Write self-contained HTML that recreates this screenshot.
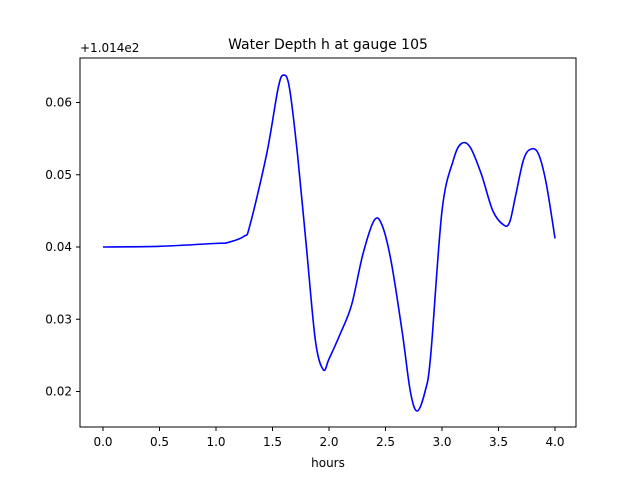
<!DOCTYPE html>
<html><head><meta charset="utf-8"><style>
body{margin:0;background:#fff;}
svg text{font-family:"DejaVu Sans","Liberation Sans",sans-serif;}
</style></head><body>
<svg id="chart" width="640" height="480" xmlns="http://www.w3.org/2000/svg">
<rect x="0" y="0" width="640" height="480" fill="#fff"/>
<text x="328" y="49" font-size="14" text-anchor="middle">Water Depth h at gauge 105</text>
<text x="80" y="52" font-size="12">+1.014e2</text>
<text x="328" y="467" font-size="12" text-anchor="middle">hours</text>
<g id="xticks"></g><g id="yticks"></g>
<path id="line" fill="none" stroke="#0000ff" stroke-width="1.6"/>
<rect x="80" y="58" width="496" height="369" fill="none" stroke="#000" stroke-width="1"/>
</svg>
<script>
const hours=[0,0.5,1.0,1.1,1.25,1.3,1.45,1.55,1.6,1.65,1.72,1.8,1.88,1.95,2.0,2.1,2.2,2.3,2.4,2.47,2.55,2.65,2.72,2.78,2.85,2.9,3.0,3.1,3.17,3.25,3.35,3.45,3.55,3.6,3.65,3.72,3.78,3.85,3.92,4.0];
const depth=[0.040,0.0401,0.0405,0.0406,0.0415,0.043,0.053,0.062,0.0638,0.062,0.053,0.040,0.027,0.023,0.0245,0.028,0.032,0.039,0.0437,0.043,0.038,0.028,0.020,0.0173,0.020,0.025,0.045,0.052,0.0543,0.0538,0.050,0.045,0.043,0.0435,0.047,0.052,0.0535,0.053,0.049,0.0412];
const xTicks=[0,0.5,1.0,1.5,2.0,2.5,3.0,3.5,4.0];
const xLabels=["0.0","0.5","1.0","1.5","2.0","2.5","3.0","3.5","4.0"];
const yTicks=[0.02,0.03,0.04,0.05,0.06];
const yLabels=["0.02","0.03","0.04","0.05","0.06"];
const X=v=>103+v*113;
const Y=v=>247-(v-0.04)*7225;
const NS="http://www.w3.org/2000/svg";
const xg=document.getElementById('xticks'),yg=document.getElementById('yticks');
xTicks.forEach((t,i)=>{
 const l=document.createElementNS(NS,'line');
 
 
 l.setAttribute('x1',X(t));l.setAttribute('x2',X(t));l.setAttribute('y1',427);l.setAttribute('y2',431);l.setAttribute('stroke','#000');
 xg.appendChild(l);
 const tx=document.createElementNS(NS,'text');
 
 
 tx.setAttribute('x',X(t));tx.setAttribute('y',446);tx.setAttribute('font-size','12');tx.setAttribute('text-anchor','middle');
 tx.textContent=xLabels[i];xg.appendChild(tx);
});
yTicks.forEach((t,i)=>{
 const l=document.createElementNS(NS,'line');
 
 
 l.setAttribute('x1',76);l.setAttribute('x2',80);l.setAttribute('y1',Y(t));l.setAttribute('y2',Y(t));l.setAttribute('stroke','#000');
 yg.appendChild(l);
 const tx=document.createElementNS(NS,'text');
 
 
 tx.setAttribute('x',72);tx.setAttribute('y',Y(t)+4);tx.setAttribute('font-size','12');tx.setAttribute('text-anchor','end');
 tx.textContent=yLabels[i];yg.appendChild(tx);
});
const pts=hours.map((h,i)=>[X(h),Y(depth[i])]);
let d='M'+pts[0][0]+','+pts[0][1];
for(let i=0;i<pts.length-1;i++){
 const p0=pts[Math.max(0,i-1)],p1=pts[i],p2=pts[i+1],p3=pts[Math.min(pts.length-1,i+2)];
 const c1=[p1[0]+(p2[0]-p0[0])/6,p1[1]+(p2[1]-p0[1])/6];
 const c2=[p2[0]-(p3[0]-p1[0])/6,p2[1]-(p3[1]-p1[1])/6];
 d+=' C'+c1[0]+','+c1[1]+' '+c2[0]+','+c2[1]+' '+p2[0]+','+p2[1];
}
document.getElementById('line').setAttribute('d',d);
</script>
</body></html>
